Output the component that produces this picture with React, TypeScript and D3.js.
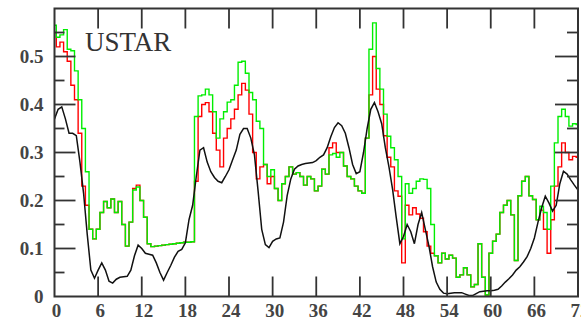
import React from "react";
import * as d3 from "d3";

const HOURS: number[] = d3.range(0, 72.01, 0.5);

const BLACK_SERIES = [
  0.37,0.39,0.395,0.37,0.34,0.34,0.335,0.28,0.215,0.13,
  0.055,0.038,0.055,0.07,0.055,0.032,0.028,0.036,0.04,0.041,
  0.042,0.055,0.085,0.107,0.1,0.09,0.088,0.086,0.07,0.05,
  0.034,0.05,0.065,0.082,0.094,0.098,0.112,0.16,0.19,0.25,
  0.305,0.31,0.28,0.26,0.248,0.24,0.237,0.25,0.264,0.285,
  0.305,0.338,0.35,0.35,0.33,0.295,0.22,0.14,0.108,0.102,
  0.115,0.12,0.122,0.155,0.21,0.245,0.265,0.272,0.275,0.277,
  0.278,0.279,0.283,0.29,0.295,0.31,0.333,0.352,0.362,0.356,
  0.34,0.31,0.275,0.256,0.26,0.3,0.35,0.39,0.404,0.385,
  0.36,0.31,0.27,0.223,0.165,0.11,0.125,0.15,0.135,0.11,
  0.15,0.175,0.14,0.105,0.062,0.03,0.015,0.007,0.006,0.007,
  0.008,0.008,0.008,0.005,0.002,0.002,0.006,0.01,0.011,0.012,
  0.012,0.013,0.015,0.022,0.03,0.037,0.045,0.055,0.062,0.072,
  0.083,0.1,0.122,0.155,0.185,0.209,0.195,0.178,0.19,0.235,
  0.261,0.255,0.243,0.232,0.222,
];

const GREEN_SERIES = [
  0.565,0.54,0.545,0.556,0.515,0.512,0.47,0.41,0.35,0.26,
  0.14,0.12,0.14,0.175,0.198,0.185,0.203,0.175,0.198,0.15,
  0.105,0.155,0.222,0.228,0.2,0.165,0.11,0.104,0.105,0.106,
  0.107,0.108,0.109,0.11,0.111,0.112,0.113,0.113,0.114,0.375,
  0.418,0.42,0.432,0.42,0.385,0.33,0.37,0.385,0.405,0.41,
  0.44,0.488,0.49,0.465,0.425,0.41,0.365,0.35,0.275,0.25,
  0.264,0.225,0.2,0.235,0.25,0.27,0.255,0.258,0.25,0.232,
  0.25,0.245,0.22,0.23,0.265,0.255,0.295,0.298,0.29,0.3,
  0.272,0.25,0.245,0.23,0.22,0.215,0.33,0.515,0.57,0.475,
  0.432,0.38,0.334,0.31,0.285,0.25,0.12,0.235,0.215,0.225,
  0.24,0.245,0.244,0.225,0.15,0.085,0.07,0.09,0.078,0.086,
  0.08,0.04,0.045,0.06,0.045,0.02,0.025,0.11,0.04,0.003,
  0.09,0.115,0.13,0.175,0.19,0.2,0.17,0.075,0.21,0.24,
  0.25,0.21,0.202,0.16,0.188,0.175,0.14,0.23,0.32,0.375,
  0.39,0.375,0.355,0.36,0.358,
];

const RED_SERIES = [
  0.55,0.52,0.53,0.51,0.49,0.44,0.41,0.34,0.23,0.19,
  0.14,0.12,0.14,0.175,0.198,0.185,0.203,0.175,0.198,0.15,
  0.105,0.155,0.225,0.232,0.2,0.165,0.11,0.104,0.105,0.106,
  0.107,0.108,0.109,0.11,0.111,0.112,0.113,0.113,0.114,0.24,
  0.375,0.4,0.404,0.385,0.34,0.305,0.27,0.33,0.35,0.37,
  0.39,0.42,0.444,0.43,0.38,0.3,0.245,0.27,0.275,0.235,
  0.25,0.225,0.2,0.235,0.25,0.27,0.255,0.258,0.25,0.232,
  0.25,0.245,0.22,0.23,0.265,0.255,0.31,0.32,0.3,0.3,
  0.272,0.25,0.245,0.23,0.22,0.215,0.33,0.42,0.5,0.432,
  0.4,0.335,0.29,0.27,0.22,0.209,0.07,0.19,0.17,0.185,
  0.172,0.163,0.135,0.105,0.09,0.085,0.07,0.09,0.078,0.086,
  0.08,0.04,0.045,0.06,0.045,0.02,0.025,0.11,0.04,0.003,
  0.09,0.115,0.13,0.175,0.19,0.2,0.17,0.075,0.21,0.24,
  0.25,0.21,0.202,0.16,0.18,0.14,0.09,0.16,0.23,0.27,
  0.32,0.3,0.285,0.292,0.29,
];

const X_TICKS = [0, 6, 12, 18, 24, 30, 36, 42, 48, 54, 60, 66, 72];
const Y_TICKS = [0, 0.1, 0.2, 0.3, 0.4, 0.5];
const Y_MINOR = [0.05, 0.15, 0.25, 0.35, 0.45, 0.55];
const TITLE = "USTAR";

const W = 581;
const H = 320;
const L = 54.5, R = 578, T = 8.5, B = 296.5;

export default function App() {
  const x = d3.scaleLinear().domain([0, 72]).range([L, R]);
  const y = d3.scaleLinear().domain([0, 0.6]).range([B, T]);

  const mk = (vals: number[], curve: any) =>
    d3
      .line<number>()
      .x((_, i) => x(HOURS[i]))
      .y((v) => y(v))
      .curve(curve)(vals) || "";

  const font = "'Liberation Serif', 'Times New Roman', serif";
  const axisCol = "#333";
  const textCol = "#444";

  return (
    <svg
      width={W}
      height={H}
      style={{ position: "absolute", left: 0, top: 0, background: "#fff" }}
    >
      <defs>
        <clipPath id="plot">
          <rect x={L} y={T - 2} width={R - L} height={B - T + 2} />
        </clipPath>
      </defs>
      <g clipPath="url(#plot)" fill="none" strokeWidth={1.4}>
        <path d={mk(RED_SERIES, d3.curveStep)} stroke="#ff0000" />
        <path d={mk(GREEN_SERIES, d3.curveStep)} stroke="#00ee00" />
        <path d={mk(BLACK_SERIES, d3.curveLinear)} stroke="#111" strokeWidth={1.5} />
      </g>

      {X_TICKS.slice(1, -1).map((t) => (
        <g key={"xt" + t} stroke={axisCol} strokeWidth={1.8}>
          <line x1={x(t)} x2={x(t)} y1={T} y2={T + 20} />
          <line x1={x(t)} x2={x(t)} y1={B} y2={B - 20} />
        </g>
      ))}
      {Y_TICKS.slice(1).map((t) => (
        <g key={"yt" + t} stroke={axisCol} strokeWidth={1.8}>
          <line x1={L} x2={L + 21} y1={y(t)} y2={y(t)} />
          <line x1={R} x2={R - 23} y1={y(t)} y2={y(t)} />
        </g>
      ))}
      {Y_MINOR.map((t) => (
        <g key={"ym" + t} stroke={axisCol} strokeWidth={1.8}>
          <line x1={L} x2={L + 10} y1={y(t)} y2={y(t)} />
          <line x1={R} x2={R - 11} y1={y(t)} y2={y(t)} />
        </g>
      ))}

      <rect
        x={L}
        y={T}
        width={R - L}
        height={B - T}
        fill="none"
        stroke={axisCol}
        strokeWidth={2}
      />

      {Y_TICKS.map((t) => (
        <text
          key={"yl" + t}
          x={L - 11}
          y={y(t) + 6}
          textAnchor="end"
          fontFamily={font}
          fontSize={19}
          fill={textCol}
          fontWeight="bold"
        >
          {t === 0 ? "0" : t.toFixed(1)}
        </text>
      ))}
      {X_TICKS.map((t) => (
        <text
          key={"xl" + t}
          x={x(t) + 2}
          y={317}
          textAnchor="middle"
          fontFamily={font}
          fontSize={19}
          fill={textCol}
          fontWeight="bold"
        >
          {t}
        </text>
      ))}
      <text x={85} y={51} fontFamily={font} fontSize={27} fill="#333">
        {TITLE}
      </text>
    </svg>
  );
}
